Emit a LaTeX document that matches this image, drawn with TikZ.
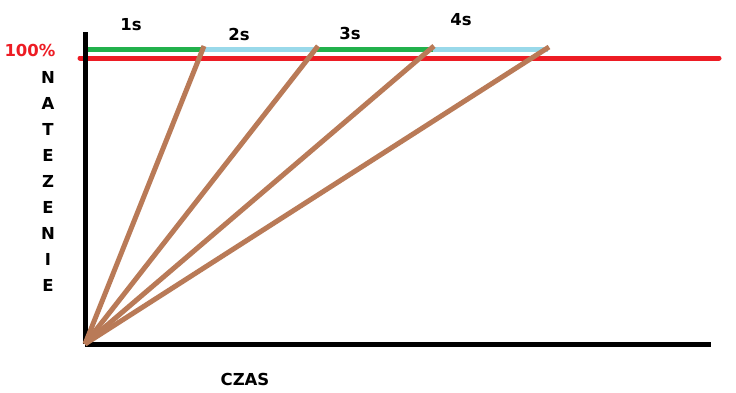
\documentclass[tikz,border=0pt]{standalone}
\usepackage{fontspec}
\setmainfont{DejaVu Sans}
\begin{document}
\begin{tikzpicture}[x=1pt,y=-1pt,
  axis/.style={line width=5pt,black},
  ray/.style={line width=5pt,draw={rgb,255:red,185;green,122;blue,87}},
  seggreen/.style={line width=5pt,draw={rgb,255:red,34;green,177;blue,76},line cap=round},
  segblue/.style={line width=5pt,draw={rgb,255:red,153;green,217;blue,234}},
  redline/.style={line width=5pt,draw={rgb,255:red,237;green,28;blue,36},line cap=round},
  lbl/.style={font=\bfseries\fontsize{16.5}{16.5}\selectfont,inner sep=0pt},
  vl/.style={font=\bfseries\fontsize{16.5}{16.5}\selectfont,inner sep=0pt}]
\useasboundingbox (0,0) rectangle (736,392);
\fill[white] (0,0) rectangle (736,392);
\coordinate (O) at (85,344);
\coordinate (ytop) at (85,32);
\coordinate (xend) at (711,344);
\coordinate (s0) at (88,49);
\coordinate (s1) at (203,49);
\coordinate (s2) at (317,49);
\coordinate (s3) at (433,49);
\coordinate (s4) at (548,49);
\coordinate (t1) at (204,46);
\coordinate (t2) at (318,46);
\coordinate (t3) at (434,46);
\coordinate (t4) at (549,47);
\coordinate (r0) at (80,58);
\coordinate (r1) at (719,58);
% segments
\draw[seggreen] (s0) -- (s1);
\draw[segblue] (s1) -- (s2);
\draw[seggreen] (s2) -- (s3);
\draw[segblue] (s3) -- (s4);
\draw[redline] (r0) -- (r1);
% axes
\draw[axis] (ytop) -- (O);
\draw[axis] (O) -- (xend);
% rays
\draw[ray] (O) -- (t1);
\draw[ray] (O) -- (t2);
\draw[ray] (O) -- (t3);
\draw[ray] (O) -- (t4);
% labels
\node[lbl] (l1) at (131,25) {1s};
\node[lbl] (l2) at (239,34) {2s};
\node[lbl] (l3) at (350,33) {3s};
\node[lbl] (l4) at (461,20) {4s};
\node[lbl,text={rgb,255:red,237;green,28;blue,36}] (p100) at (30,50) {100\%};
\node[lbl] (czas) at (245,379) {CZAS};
\foreach \c [count=\i] in {N,A,T,E,Z,E,N,I,E}
  \node[vl] (v\i) at (48,{51+26*\i}) {\c};
\end{tikzpicture}
\end{document}
